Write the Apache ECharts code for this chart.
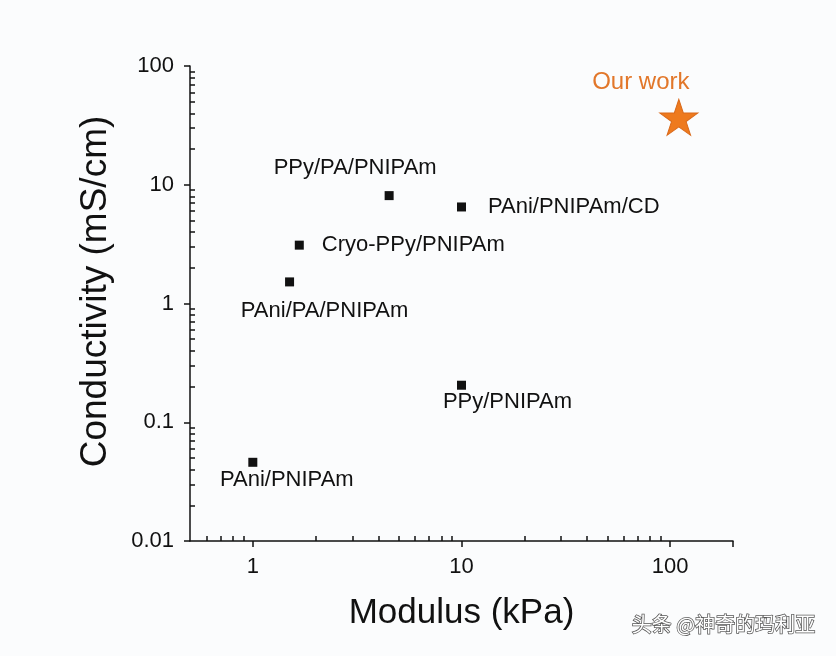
<!DOCTYPE html>
<html>
<head>
<meta charset="utf-8">
<title>Conductivity vs Modulus</title>
<script src="https://cdn.jsdelivr.net/npm/echarts@6/dist/echarts.min.js"></script>
<style>
  html, body { margin: 0; padding: 0; background: #fbfcfd; }
  #chart { width: 836px; height: 656px; }
</style>
</head>
<body>
<div id="chart"></div>
<script>
// 文献对比数据（模量 kPa，电导率 mS/cm）
const names = ['PAni/PNIPAm', 'PAni/PA/PNIPAm', 'Cryo-PPy/PNIPAm', 'PPy/PA/PNIPAm', 'PAni/PNIPAm/CD', 'PPy/PNIPAm']
const modulus = [1, 1.5, 1.67, 4.5, 10, 10]
const conductivity = [0.046, 1.52, 3.1, 8.1, 6.5, 0.205]

// 本工作
const ourName = 'Our work'
const ourModulus = [110]
const ourConductivity = [37]

// 刻度
const xMajorTicks = [1, 10, 100]
const xMinorTicks = [0.6, 0.7, 0.8, 0.9, 2, 3, 4, 5, 6, 7, 8, 9, 20, 30, 40, 50, 60, 70, 80, 90]
const yMajorTicks = [0.01, 0.1, 1, 10, 100]
const yMinorTicks = [0.02, 0.03, 0.04, 0.05, 0.06, 0.07, 0.08, 0.09,
  0.2, 0.3, 0.4, 0.5, 0.6, 0.7, 0.8, 0.9, 2, 3, 4, 5, 6, 7, 8, 9, 20, 30, 40, 50, 60, 70, 80, 90]

// 每个标签的摆放（样式）
const labelLayout = {
  'PAni/PNIPAm': { position: 'inside', offset: [34, 18] },
  'PAni/PA/PNIPAm': { position: 'inside', offset: [35, 29] },
  'Cryo-PPy/PNIPAm': { position: 'right', distance: 18, offset: [0, 0], align: 'left' },
  'PPy/PA/PNIPAm': { position: 'inside', offset: [-34, -28] },
  'PAni/PNIPAm/CD': { position: 'right', distance: 22, offset: [0, 0], align: 'left' },
  'PPy/PNIPAm': { position: 'inside', offset: [46, 17] },
}

const FONT = '"Liberation Sans", Arial, sans-serif'
const starPath = 'path://M50 0 L61.2 34.5 L97.55 34.55 L68.2 55.9 L79.4 90.45 L50 69.1 L20.6 90.45 L31.8 55.9 L2.45 34.55 L38.8 34.5 Z'

const chart = echarts.init(document.getElementById('chart'))

const pointData = names.map((n, i) => ({
  name: n,
  value: [modulus[i], conductivity[i]],
  label: labelLayout[n],
}))

const baseX = {
  type: 'log',
  logBase: 10,
  min: 0.5,
  max: 200,
  splitLine: { show: false },
}
const baseY = {
  type: 'log',
  logBase: 10,
  min: 0.01,
  max: 100,
  splitLine: { show: false },
}
const tickLine = { color: '#111', width: 1.5 }

const option = {
  backgroundColor: '#fbfcfd',
  animation: false,
  grid: { left: 190, right: 103, top: 66, bottom: 115 },
  xAxis: [
    {
      ...baseX,
      name: 'Modulus (kPa)',
      nameLocation: 'middle',
      nameGap: 55,
      nameTextStyle: { color: '#111', fontSize: 35, fontFamily: FONT },
      axisLine: { lineStyle: tickLine },
      axisTick: { show: true, inside: false, length: 6, customValues: xMajorTicks.concat([200]), lineStyle: tickLine },
      axisLabel: { customValues: xMajorTicks, color: '#111', fontSize: 22, fontFamily: FONT, margin: 15 },
    },
    {
      ...baseX,
      position: 'bottom',
      axisLine: { show: false },
      axisTick: { show: true, inside: true, length: 5, customValues: xMinorTicks, lineStyle: tickLine },
      axisLabel: { show: false },
    },
  ],
  yAxis: [
    {
      ...baseY,
      name: 'Conductivity (mS/cm)',
      nameLocation: 'middle',
      nameGap: 76,
      nameTextStyle: { color: '#111', fontSize: 37, fontFamily: FONT, padding: [0, 0, 0, 24] },
      axisLine: { lineStyle: tickLine },
      axisTick: { show: true, inside: false, length: 6, customValues: yMajorTicks, lineStyle: tickLine },
      axisLabel: { customValues: yMajorTicks, color: '#111', fontSize: 22, fontFamily: FONT, margin: 16 },
    },
    {
      ...baseY,
      position: 'left',
      axisLine: { show: false },
      axisTick: { show: true, inside: true, length: 5, customValues: yMinorTicks, lineStyle: tickLine },
      axisLabel: { show: false },
    },
  ],
  series: [
    {
      type: 'scatter',
      symbol: 'rect',
      symbolSize: 9,
      itemStyle: { color: '#111', opacity: 1 },
      label: {
        show: true,
        position: 'inside',
        formatter: '{b}',
        color: '#111',
        fontSize: 22,
        fontFamily: FONT,
        align: 'center',
        verticalAlign: 'middle',
      },
      data: pointData,
    },
    {
      type: 'scatter',
      symbol: starPath,
      symbolSize: [38, 36],
      itemStyle: { color: '#ee7a1e', borderColor: '#d9691a', borderWidth: 1, opacity: 1 },
      label: {
        show: true,
        position: 'inside',
        formatter: '{b}',
        offset: [-38, -35],
        color: '#e2772a',
        fontSize: 24,
        fontFamily: FONT,
        align: 'center',
        verticalAlign: 'middle',
      },
      data: ourModulus.map((m, i) => ({ name: ourName, value: [m, ourConductivity[i]] })),
    },
  ],
  graphic: [
    {
      type: 'text',
      right: 20,
      top: 614,
      style: {
        text: '头条 @神奇的玛利亚',
        fill: '#ffffff',
        stroke: '#555',
        lineWidth: 1.5,
        font: '20px "Noto Sans CJK SC", sans-serif',
      },
    },
  ],
}

chart.setOption(option)
</script>
</body>
</html>
